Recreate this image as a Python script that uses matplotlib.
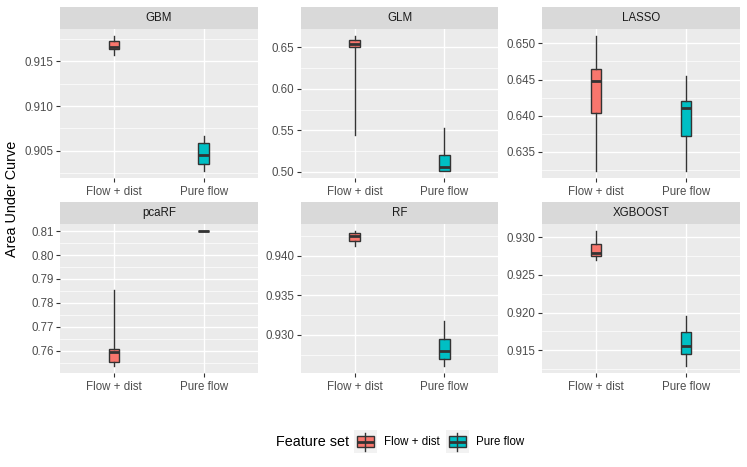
import matplotlib
matplotlib.use("Agg")
import matplotlib.pyplot as plt
from matplotlib.ticker import MultipleLocator, FormatStrFormatter
from matplotlib.transforms import Affine2D
from matplotlib.patches import Rectangle
from matplotlib.lines import Line2D

plt.rcParams['font.family'] = ['Liberation Sans', 'DejaVu Sans']

# ---------------- data ----------------
models = ["GBM", "GLM", "LASSO", "pcaRF", "RF", "XGBOOST"]
feature_sets = ["Flow + dist", "Pure flow"]

# Flow + dist
fd_whislo = [0.91574, 0.5443, 0.63233, 0.7535, 0.94122, 0.92690]
fd_q1     = [0.91641, 0.6504, 0.64037, 0.7552, 0.94189, 0.92743]
fd_med    = [0.91663, 0.6540, 0.64482, 0.7593, 0.94243, 0.92788]
fd_q3     = [0.91733, 0.6588, 0.64647, 0.7607, 0.94281, 0.92902]
fd_whishi = [0.91785, 0.6635, 0.65100, 0.7855, 0.94311, 0.93079]

# Pure flow
pf_whislo = [0.90270, 0.5007, 0.63233, 0.80995, 0.92604, 0.91288]
pf_q1     = [0.90352, 0.5009, 0.63725, 0.80998, 0.92692, 0.91456]
pf_med    = [0.90448, 0.5060, 0.64106, 0.81000, 0.92798, 0.91553]
pf_q3     = [0.90592, 0.5203, 0.64197, 0.81002, 0.92953, 0.91743]
pf_whishi = [0.90670, 0.5529, 0.64546, 0.81005, 0.93171, 0.91956]

# y-axis tick spacing and label format per panel
tick_steps = [0.005, 0.05, 0.005, 0.01, 0.005, 0.005]
tick_formats = ["%.3f", "%.2f", "%.3f", "%.2f", "%.3f", "%.3f"]

fill_colors = ["#F8766D", "#00BFC4"]
legend_title = "Feature set"
y_title = "Area Under Curve"

# ---------------- layout ----------------
W, H = 747, 467
fig = plt.figure(figsize=(W / 100, H / 100), dpi=100)
pxT = Affine2D().scale(1 / W, -1 / H).translate(0, 1) + fig.transFigure


def rect(l, t, r, b):
    return [l / W, 1 - b / H, (r - l) / W, (b - t) / H]


col_lr = [(60, 257.7), (301, 498.3), (542, 740)]
row_tb = [(7, 29.3, 178), (202.3, 224.3, 373)]

EDGE = "#333333"
for i, m in enumerate(models):
    r, c = divmod(i, 3)
    l, rr = col_lr[c]
    st, pt, pb = row_tb[r]
    ax = fig.add_axes(rect(l, pt, rr, pb))
    sax = fig.add_axes(rect(l, st, rr, pt))
    sax.set_facecolor("#D9D9D9")
    sax.set_xticks([]); sax.set_yticks([])
    for s in sax.spines.values():
        s.set_visible(False)
    sax.text(0.5, 0.5, m, ha="center", va="center", fontsize=8.3,
             color="#1A1A1A", transform=sax.transAxes)

    stats = [
        dict(whislo=fd_whislo[i], q1=fd_q1[i], med=fd_med[i], q3=fd_q3[i],
             whishi=fd_whishi[i], label=feature_sets[0]),
        dict(whislo=pf_whislo[i], q1=pf_q1[i], med=pf_med[i], q3=pf_q3[i],
             whishi=pf_whishi[i], label=feature_sets[1]),
    ]
    bp = ax.bxp(stats, positions=[1, 2], widths=0.12, patch_artist=True,
                showfliers=False, showcaps=False,
                boxprops=dict(edgecolor=EDGE, linewidth=1.0),
                medianprops=dict(color=EDGE, linewidth=2.0, solid_capstyle="butt"),
                whiskerprops=dict(color=EDGE, linewidth=1.0))
    for patch, fc in zip(bp["boxes"], fill_colors):
        patch.set_facecolor(fc)
    ax.set_facecolor("#EBEBEB")
    ax.set_axisbelow(True)
    for s in ax.spines.values():
        s.set_visible(False)
    ax.set_xlim(0.4, 2.6)
    ax.margins(y=0.05)
    ax.relim()
    ax.autoscale_view(scalex=False)
    ax.set_xticks([1, 2])
    ax.set_xticklabels(feature_sets)
    ax.yaxis.set_major_locator(MultipleLocator(tick_steps[i]))
    ax.yaxis.set_minor_locator(MultipleLocator(tick_steps[i] / 2))
    ax.yaxis.set_major_formatter(FormatStrFormatter(tick_formats[i]))
    ax.grid(which="major", color="white", linewidth=1.0)
    ax.grid(which="minor", axis="y", color="white", linewidth=0.5)
    ax.tick_params(which="major", length=2.6, width=0.8, color=EDGE,
                   labelsize=8.3, labelcolor="#4D4D4D", pad=2)
    ax.tick_params(axis="x", which="major", pad=3)
    ax.tick_params(which="minor", length=0)

fig.text(12 / W, 1 - 199 / H, y_title, rotation=90, ha="center", va="center",
         fontsize=10.4, color="black")

# ---------------- legend ----------------
fig.text(275.7, 441.7, legend_title, transform=pxT, ha="left", va="center",
         fontsize=10.4, color="black")
key_x = [354, 446]
key_size = 22.6
cy = 441.7
for kx, fc, lab in zip(key_x, fill_colors, feature_sets):
    top = cy - key_size / 2
    fig.add_artist(Rectangle((kx, top), key_size, key_size, transform=pxT,
                             facecolor="#F2F2F2", edgecolor="none"))
    bx0 = kx + 0.125 * key_size
    bw = 0.75 * key_size
    fig.add_artist(Line2D([kx + key_size / 2] * 2, [top + 0.1 * key_size, top + 0.9 * key_size],
                          transform=pxT, color=EDGE, linewidth=1.0))
    fig.add_artist(Rectangle((bx0, top + 0.25 * key_size), bw, 0.5 * key_size,
                             transform=pxT, facecolor=fc, edgecolor=EDGE, linewidth=1.0))
    fig.add_artist(Line2D([bx0, bx0 + bw], [cy, cy], transform=pxT, color=EDGE,
                          linewidth=2.0, solid_capstyle="butt"))
    fig.text(kx + key_size + 7.5, cy, lab, transform=pxT, ha="left", va="center",
             fontsize=8.3, color="black")

fig.savefig("out.png", dpi=100)
